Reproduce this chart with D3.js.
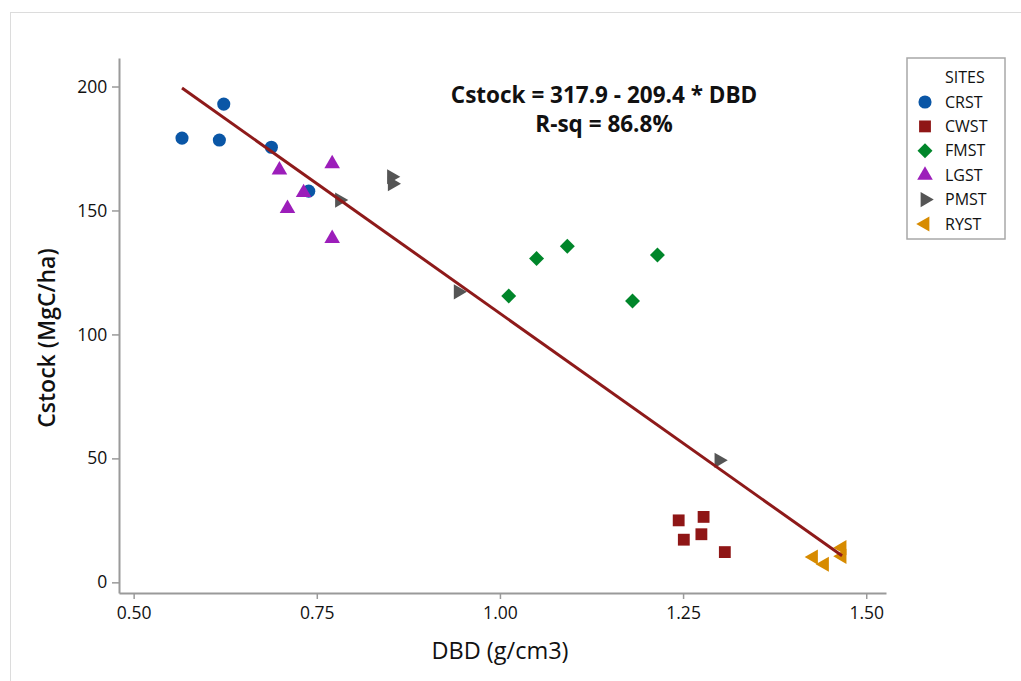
<!DOCTYPE html>
<html>
<head>
<meta charset="utf-8">
<script src="https://cdn.jsdelivr.net/npm/d3@7"></script>
<style>
  body { margin: 0; background: #fff; }
  text { font-family: "Open Sans", "Noto Sans", sans-serif; }
</style>
</head>
<body>
<script>
// site groups
const sites = ["CRST", "CWST", "FMST", "LGST", "PMST", "RYST"];
const colors = ["#0a56a6", "#8f1616", "#00862a", "#9c1eba", "#555555", "#d78b00"];

const crstDBD = [0.566, 0.623, 0.617, 0.688, 0.739];
const crstC   = [179.2, 192.9, 178.4, 175.5, 157.8];
const cwstDBD = [1.244, 1.278, 1.251, 1.275, 1.307];
const cwstC   = [25.0, 26.4, 17.2, 19.4, 12.2];
const fmstDBD = [1.012, 1.050, 1.092, 1.215, 1.181];
const fmstC   = [115.5, 130.6, 135.6, 132.0, 113.5];
const lgstDBD = [0.699, 0.771, 0.732, 0.710, 0.771];
const lgstC   = [166.3, 168.8, 157.2, 150.8, 138.7];
const pmstDBD = [0.781, 0.852, 0.853, 0.943, 1.299];
const pmstC   = [154.2, 163.6, 160.8, 117.2, 49.2];
const rystDBD = [1.428, 1.443, 1.467, 1.467];
const rystC   = [10.2, 7.3, 14.0, 10.5];

const xTicks = [0.5, 0.75, 1.0, 1.25, 1.5];
const yTicks = [0, 50, 100, 150, 200];
const intercept = 317.9, slope = -209.4;

const width = 1021, height = 681;
const svg = d3.select("body").append("svg").attr("width", width).attr("height", height);

// faint outer frame
svg.append("rect").attr("x", 10.5).attr("y", 12.5).attr("width", 1100).attr("height", 800)
  .attr("fill", "none").attr("stroke", "#dcdcdc");

const x = d3.scaleLinear().domain([0.48, 1.527]).range([119, 886]);
const y = d3.scaleLinear().domain([-4.3, 211.5]).range([593, 58]);

const groups = [
  [crstDBD, crstC], [cwstDBD, cwstC], [fmstDBD, fmstC],
  [lgstDBD, lgstC], [pmstDBD, pmstC], [rystDBD, rystC]
];
const points = [];
groups.forEach((g, i) => g[0].forEach((d, j) => points.push({ site: i, dbd: d, c: g[1][j] })));

// axes
const xAxis = svg.append("g").attr("transform", "translate(0,593)")
  .call(d3.axisBottom(x).tickValues(xTicks).tickFormat(d3.format(".2f")).tickSize(6).tickSizeOuter(0));
const yAxis = svg.append("g").attr("transform", "translate(119,0)")
  .call(d3.axisLeft(y).tickValues(yTicks).tickSize(7).tickSizeOuter(0));
[xAxis, yAxis].forEach(a => {
  a.select(".domain").attr("stroke", "#9a9a9a").attr("stroke-width", 2);
  a.selectAll(".tick line").attr("stroke", "#9a9a9a").attr("stroke-width", 1.5);
  a.selectAll(".tick text").attr("fill", "#111").style("font-size", "17.5px")
    .style("font-family", "'Open Sans', sans-serif");
});
xAxis.selectAll(".tick text").attr("dy", "0.95em");
yAxis.selectAll(".tick text").attr("dx", "-0.1em");

svg.append("text").attr("x", 500).attr("y", 659).attr("text-anchor", "middle")
  .style("font-size", "23.5px").attr("fill", "#111").text("DBD (g/cm3)");
svg.append("text").attr("transform", "translate(55,338) rotate(-90)").attr("text-anchor", "middle")
  .style("font-size", "23px").style("font-weight", "600").attr("fill", "#111").text("Cstock (MgC/ha)");

// symbols
const symbolFor = (i) => {
  if (i === 0) return { type: d3.symbolCircle, size: 135, rot: 0 };
  if (i === 1) return { type: d3.symbolSquare, size: 140, rot: 0 };
  if (i === 2) return { type: d3.symbolSquare, size: 112, rot: 45 };
  if (i === 3) return { type: d3.symbolTriangle, size: 105, rot: 0 };
  if (i === 4) return { type: d3.symbolTriangle, size: 100, rot: 90 };
  return { type: d3.symbolTriangle, size: 100, rot: -90 };
};
const drawSym = (sel, i) => {
  const s = symbolFor(i);
  sel.attr("d", d3.symbol().type(s.type).size(s.size)())
    .attr("fill", colors[i]);
  return s.rot;
};

svg.append("g").selectAll("path").data(points).enter().append("path")
  .each(function (d) {
    const rot = drawSym(d3.select(this), d.site);
    d3.select(this).attr("transform", `translate(${x(d.dbd)},${y(d.c)}) rotate(${rot})`);
  });

// fitted line
const allX = points.map(p => p.dbd);
const xr = d3.extent(allX);
svg.append("line")
  .attr("x1", x(xr[0])).attr("y1", y(intercept + slope * xr[0]))
  .attr("x2", x(xr[1])).attr("y2", y(intercept + slope * xr[1]))
  .attr("stroke", "#8e1a1a").attr("stroke-width", 3);

// equation
svg.append("text").attr("x", 604).attr("y", 103).attr("text-anchor", "middle")
  .style("font-size", "22.5px").style("font-weight", "bold").attr("fill", "#111")
  .text("Cstock = 317.9 - 209.4 * DBD");
svg.append("text").attr("x", 604).attr("y", 132).attr("text-anchor", "middle")
  .style("font-size", "22.5px").style("font-weight", "bold").attr("fill", "#111")
  .text("R-sq = 86.8%");

// legend
const lg = svg.append("g");
lg.append("rect").attr("x", 907).attr("y", 58).attr("width", 98).attr("height", 181)
  .attr("fill", "#fff").attr("stroke", "#a8a8a8").attr("stroke-width", 1.5);
lg.append("text").attr("x", 945).attr("y", 83).style("font-size", "16px").attr("fill", "#111").text("SITES");
sites.forEach((s, i) => {
  const cy = 102 + i * 24.4;
  const p = lg.append("path");
  const rot = drawSym(p, i);
  p.attr("transform", `translate(925,${cy}) rotate(${rot})`);
  lg.append("text").attr("x", 945).attr("y", cy + 5.5).style("font-size", "16px").attr("fill", "#111").text(s);
});
</script>
</body>
</html>
